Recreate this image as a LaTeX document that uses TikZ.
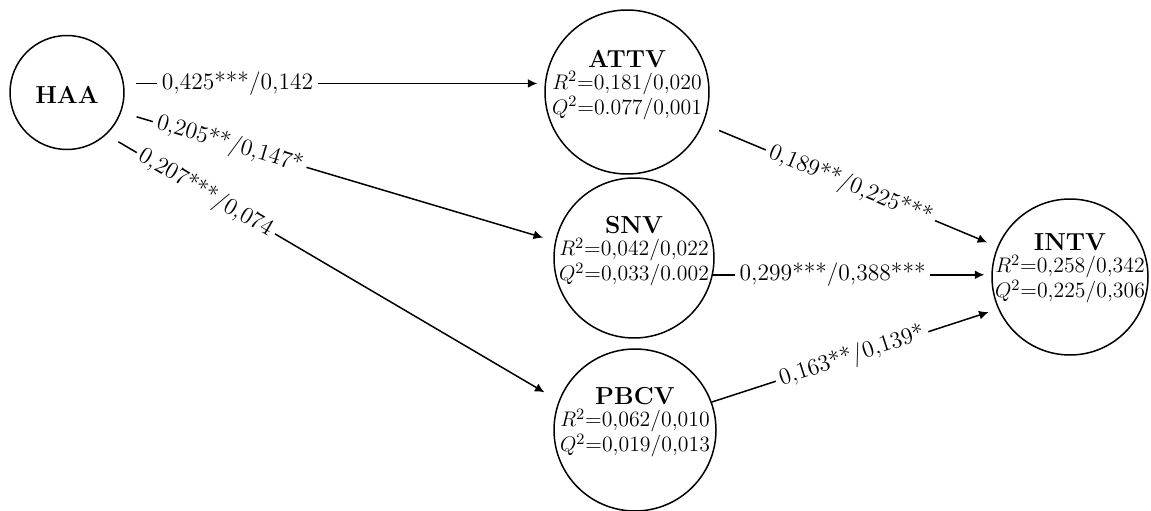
\documentclass[tikz,border=0pt]{standalone}
\usepackage{amsmath}
\usepackage{tikz}
\usetikzlibrary{arrows.meta, positioning, calc}

\begin{document}
\begin{tikzpicture}[
  construto/.style={draw, circle, line width=0.85pt, inner sep=0pt},
  rotulo/.style={align=center, font=\fontsize{12.4}{11.5}\selectfont},
  titulo/.style={font=\fontsize{14}{14}\selectfont\bfseries},
  coef/.style={fill=white, sloped, inner sep=2.5pt, font=\fontsize{13.4}{14}\selectfont},
  seta/.style={line width=0.85pt, -{Latex[length=1.9mm, width=1.8mm]}}
]
  \useasboundingbox (0,0) rectangle (23.02,-10.22);
  % Construtos
  \node[construto, minimum size=2.28cm] (HAA) at (1.34,-1.85) {};
  \node[construto, minimum size=3.28cm] (ATTV) at (12.54,-1.84) {};
  \node[construto, minimum size=3.20cm] (SNV) at (12.68,-5.16) {};
  \node[construto, minimum size=3.24cm] (PBCV) at (12.70,-8.60) {};
  \node[construto, minimum size=3.12cm] (INTV) at (21.40,-5.54) {};
  % Textos dos construtos
  \node[rotulo, titulo] (HAAt) at ([yshift=-0.04cm]HAA) {HAA};
  \node[rotulo] (ATTVt) at ([yshift=0.14cm]ATTV) {{\fontsize{14}{14}\selectfont\bfseries ATTV}\\[1pt]$R^{2}$=0,181/0,020\\$Q^{2}$=0.077/0,001};
  \node[rotulo] (SNVt) at ([yshift=0.13cm]SNV) {{\fontsize{14}{14}\selectfont\bfseries SNV}\\[1pt]$R^{2}$=0,042/0,022\\$Q^{2}$=0,033/0.002};
  \node[rotulo] (PBCVt) at ([yshift=0.15cm]PBCV) {{\fontsize{14}{14}\selectfont\bfseries PBCV}\\[1pt]$R^{2}$=0,062/0,010\\$Q^{2}$=0,019/0,013};
  \node[rotulo] (INTVt) at ([yshift=0.17cm]INTV) {{\fontsize{14}{14}\selectfont\bfseries INTV}\\[1pt]$R^{2}$=0,258/0,342\\$Q^{2}$=0,225/0,306};
  % Caminhos a partir de HAA
  \draw[seta, shorten <=0.24cm, shorten >=0.14cm] (HAA.9) -- node[coef, pos=0.27] {0,425***/0,142} (HAA.9 -| ATTV.west);
  \draw[seta, shorten <=0.32cm, shorten >=0.25cm] (HAA.-20) -- node[coef, pos=0.25] {0,205**/0,147*} (SNV.168);
  \draw[seta, shorten <=0.28cm, shorten >=0.33cm] (HAA.-47) -- node[coef, pos=0.22] {0,207***/0,074} (PBCV.159);
  % Caminhos para INTV
  \draw[seta, shorten <=0.34cm, shorten >=0.22cm] (ATTV) -- node[coef, pos=0.5] {0,189**/0,225***} (INTV);
  \draw[seta, shorten >=0.14cm] (SNV.-12) -- node[coef, pos=0.43] {0,299***/0,388***} (SNV.-12 -| INTV.west);
  \draw[seta, shorten >=0.2cm] (PBCV.20) -- node[coef, pos=0.49] {0,163**/0,139*} (INTV.204);
\end{tikzpicture}
\end{document}
